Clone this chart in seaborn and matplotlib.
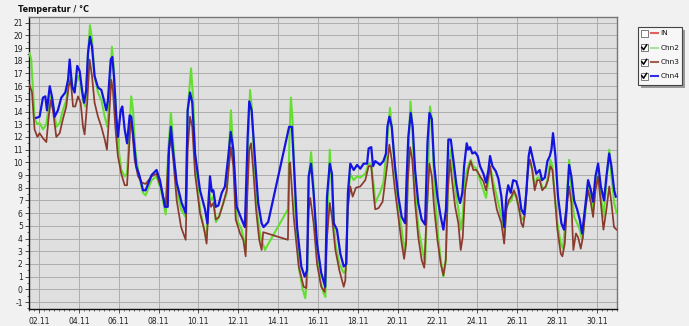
import matplotlib
matplotlib.use("Agg")
import matplotlib.pyplot as plt
import seaborn as sns
import pandas as pd
import numpy as np
from matplotlib.patches import Rectangle
from matplotlib.lines import Line2D
from matplotlib.ticker import MultipleLocator, FixedLocator

# ---------------- data (day of November, temperature in degC) ----------------
chn2_day = [1.53, 1.61, 1.70, 1.78, 1.92, 2.03, 2.20, 2.37, 2.49, 2.59, 2.70, 2.87, 3.04, 3.20, 3.37,
            3.49, 3.59, 3.71, 3.82, 3.96, 4.09, 4.21, 4.32, 4.46, 4.56, 4.66, 4.79, 4.96, 5.13, 5.30,
            5.43, 5.55, 5.66, 5.76, 5.88, 6.00, 6.13, 6.30, 6.42, 6.52, 6.63, 6.72, 6.83, 7.00, 7.22,
            7.35, 7.65, 7.90, 8.12, 8.36, 8.49, 8.62, 8.74, 8.91, 9.13, 9.36, 9.46, 9.63, 9.74, 9.86,
            10.08, 10.29, 10.41, 10.53, 10.63, 10.75, 10.88, 11.03, 11.25, 11.42, 11.53, 11.63, 11.75,
            11.92, 12.17, 12.37, 12.47, 12.59, 12.67, 12.80, 12.97, 13.14, 13.25, 13.34, 13.44, 14.49,
            14.56, 14.64, 14.73, 14.86, 15.06, 15.23, 15.36, 15.46, 15.55, 15.65, 15.75, 15.91, 16.11,
            16.28, 16.37, 16.47, 16.59, 16.70, 16.87, 17.07, 17.29, 17.40, 17.50, 17.62, 17.79, 17.96,
            18.12, 18.37, 18.54, 18.67, 18.80, 18.87, 19.01, 19.11, 19.28, 19.41, 19.53, 19.61, 19.71,
            19.86, 20.03, 20.20, 20.32, 20.42, 20.52, 20.64, 20.73, 20.87, 21.03, 21.20, 21.37, 21.49,
            21.62, 21.71, 21.82, 21.99, 22.16, 22.29, 22.41, 22.54, 22.66, 22.79, 22.93, 23.04, 23.16,
            23.26, 23.38, 23.54, 23.66, 23.79, 23.95, 24.13, 24.30, 24.43, 24.55, 24.63, 24.80, 24.97,
            25.20, 25.34, 25.45, 25.57, 25.70, 25.83, 25.95, 26.09, 26.24, 26.37, 26.50, 26.62, 26.75,
            26.87, 27.00, 27.12, 27.25, 27.42, 27.54, 27.66, 27.76, 27.88, 28.01, 28.18, 28.29, 28.43,
            28.60, 28.71, 28.85, 29.00, 29.13, 29.25, 29.39, 29.55, 29.69, 29.80, 29.92, 30.05, 30.19,
            30.32, 30.47, 30.61, 30.72, 30.86, 30.98]
chn2_temp = [18.6, 18.1, 15.7, 13.4, 13.0, 13.1, 12.6, 13.0, 14.4, 15.2, 14.7, 12.8, 13.1, 14.1, 14.9,
             16.2, 17.0, 15.7, 16.0, 16.8, 16.2, 14.9, 14.4, 18.6, 20.8, 19.7, 16.8, 15.5, 14.9, 13.6,
             12.8, 15.5, 19.1, 17.3, 13.6, 11.0, 9.4, 8.9, 9.1, 12.0, 15.2, 14.1, 11.0, 9.1, 7.6,
             7.4, 8.6, 8.9, 7.8, 5.9, 11.0, 13.9, 11.5, 7.8, 6.3, 5.7, 14.1, 17.4, 14.9, 9.7,
             6.3, 4.7, 3.9, 7.8, 7.0, 7.3, 5.3, 5.7, 6.8, 7.6, 10.7, 14.1, 10.7,
             5.5, 4.7, 3.1, 10.2, 15.7, 14.4, 10.2, 5.7, 3.9, 3.5, 3.1, 3.4, 6.3,
             11.5, 15.1, 13.1, 6.3, 1.5, 0.0, -0.7, 1.0, 8.9, 10.8, 8.9, 3.4, 0.7,
             -0.3, -0.6, 5.5, 11.0, 7.8, 3.6, 2.0, 1.3, 1.5, 7.0, 9.1, 8.6, 8.9,
             8.8, 9.1, 9.9, 9.8, 8.1, 6.8, 7.3, 7.6, 8.4, 10.5, 12.8, 14.3, 12.6,
             9.4, 6.5, 4.7, 3.1, 3.9, 10.2, 14.8, 12.8, 7.8, 4.9, 3.4, 2.0, 7.3,
             14.4, 13.4, 8.9, 4.7, 2.3, 1.0, 2.3, 9.7, 11.0, 9.4, 7.3, 6.3, 4.7,
             5.7, 8.9, 9.7, 10.2, 9.7, 9.5, 8.6, 7.8, 7.2, 8.6, 9.7, 8.4, 7.3,
             5.7, 4.1, 6.5, 6.8, 7.0, 7.7, 7.2, 6.3, 5.5, 5.7, 8.9, 10.2, 9.4,
             8.1, 8.8, 8.8, 8.0, 8.0, 8.9, 10.2, 9.7, 7.3, 5.2, 3.6, 3.2, 5.7,
             10.2, 7.8, 5.7, 5.2, 4.7, 3.9, 5.7, 8.4, 7.3, 6.3, 8.4, 9.7, 7.3,
             5.7, 8.4, 11.0, 8.9, 6.8, 6.0]

chn3_day = [1.53, 1.65, 1.78, 1.92, 2.03, 2.20, 2.37, 2.49, 2.59, 2.70, 2.87, 3.04, 3.20, 3.37, 3.49,
            3.59, 3.71, 3.82, 3.96, 4.09, 4.21, 4.29, 4.42, 4.54, 4.66, 4.79, 4.96, 5.13, 5.30, 5.41,
            5.51, 5.63, 5.71, 5.83, 5.96, 6.13, 6.30, 6.42, 6.50, 6.60, 6.68, 6.80, 6.97, 7.17, 7.35,
            7.65, 7.90, 8.16, 8.36, 8.49, 8.62, 8.74, 8.91, 9.13, 9.36, 9.46, 9.58, 9.69, 9.83, 10.08,
            10.29, 10.41, 10.53, 10.63, 10.75, 10.87, 11.03, 11.25, 11.42, 11.53, 11.63, 11.75, 11.87,
            12.09, 12.25, 12.37, 12.45, 12.55, 12.64, 12.75, 12.89, 13.05, 13.17, 13.25, 14.49, 14.56,
            14.60, 14.78, 15.03, 15.28, 15.41, 15.53, 15.61, 15.78, 15.95, 16.16, 16.33, 16.45, 16.59,
            16.70, 16.87, 17.07, 17.29, 17.37, 17.49, 17.62, 17.74, 17.90, 18.12, 18.37, 18.54, 18.67,
            18.80, 18.87, 19.04, 19.24, 19.36, 19.48, 19.58, 19.70, 19.86, 20.03, 20.20, 20.32, 20.42,
            20.50, 20.62, 20.73, 20.87, 21.03, 21.20, 21.33, 21.46, 21.59, 21.71, 21.82, 21.99, 22.16,
            22.29, 22.41, 22.51, 22.62, 22.74, 22.88, 23.04, 23.16, 23.26, 23.38, 23.54, 23.66, 23.79,
            23.95, 24.13, 24.30, 24.43, 24.55, 24.63, 24.80, 24.97, 25.20, 25.34, 25.45, 25.57, 25.70,
            25.83, 25.95, 26.09, 26.20, 26.29, 26.40, 26.54, 26.64, 26.75, 26.87, 27.00, 27.12, 27.25,
            27.42, 27.54, 27.66, 27.76, 27.88, 28.01, 28.18, 28.26, 28.38, 28.50, 28.60, 28.71, 28.81,
            28.94, 29.05, 29.18, 29.29, 29.41, 29.55, 29.69, 29.80, 29.92, 30.05, 30.19, 30.32, 30.47,
            30.61, 30.72, 30.85, 30.98]
chn3_temp = [16.1, 15.5, 12.6, 12.0, 12.3, 11.9, 11.6, 13.6, 14.9, 14.1, 12.0, 12.3, 13.4, 14.4, 16.0,
             16.5, 14.4, 14.4, 15.2, 14.7, 12.8, 12.2, 14.7, 18.1, 16.8, 14.7, 13.6, 12.8, 11.8, 11.0,
             13.4, 16.5, 15.7, 12.8, 10.5, 9.1, 8.2, 8.2, 10.5, 13.4, 12.6, 10.2, 8.9, 8.4, 8.3,
             8.9, 9.1, 7.8, 6.5, 10.5, 12.0, 10.2, 7.0, 4.9, 3.9, 11.0, 13.6, 12.8, 9.1, 6.0,
             4.7, 3.6, 7.3, 6.5, 6.8, 5.5, 5.7, 6.8, 7.8, 9.7, 11.2, 9.7, 5.5,
             4.4, 3.9, 2.6, 7.3, 11.0, 11.5, 9.4, 6.3, 3.9, 3.1, 4.5, 3.9, 9.9,
             10.0, 5.7, 1.8, 0.2, 0.1, 6.3, 7.2, 5.2, 2.0, 0.2, -0.2, 4.1, 6.8,
             5.7, 3.1, 1.5, 0.2, 0.7, 6.3, 8.1, 7.3, 8.0, 8.1, 8.6, 9.7, 9.7,
             7.3, 6.3, 6.4, 6.9, 8.4, 9.9, 11.4, 10.2, 7.8, 5.7, 3.6, 2.4, 3.6,
             8.4, 11.2, 10.2, 6.8, 4.1, 2.3, 1.7, 6.3, 9.9, 8.9, 6.5, 3.9, 2.0,
             1.1, 2.3, 7.6, 10.2, 8.4, 6.5, 5.2, 3.1, 4.1, 7.8, 9.4, 10.1, 9.4,
             9.4, 8.9, 8.5, 7.8, 8.9, 9.7, 7.8, 6.3, 5.2, 3.6, 6.3, 7.0, 7.3,
             7.8, 7.3, 6.3, 5.2, 4.9, 6.3, 9.7, 10.2, 9.4, 7.8, 8.6, 8.6, 7.8,
             8.1, 8.6, 9.7, 9.4, 7.3, 4.7, 2.8, 2.6, 3.6, 6.8, 8.1, 6.8, 3.1,
             4.4, 4.1, 3.2, 4.1, 6.3, 7.8, 6.8, 5.7, 7.8, 8.9, 6.8, 4.7, 6.3,
             8.1, 6.8, 4.9, 4.7]

chn4_day = [1.86, 2.03, 2.20, 2.32, 2.40, 2.54, 2.65, 2.79, 2.95, 3.12, 3.32, 3.46, 3.54, 3.66, 3.79,
            3.92, 4.04, 4.16, 4.26, 4.37, 4.46, 4.56, 4.66, 4.79, 4.96, 5.13, 5.26, 5.38, 5.46, 5.60,
            5.68, 5.76, 5.88, 5.96, 6.10, 6.18, 6.30, 6.42, 6.55, 6.63, 6.77, 6.88, 7.05, 7.22, 7.35,
            7.65, 7.90, 8.07, 8.32, 8.46, 8.52, 8.62, 8.74, 8.91, 9.16, 9.36, 9.46, 9.58, 9.69, 9.83,
            10.08, 10.33, 10.45, 10.58, 10.67, 10.75, 10.87, 11.00, 11.17, 11.33, 11.50, 11.62, 11.75,
            11.92, 12.17, 12.33, 12.47, 12.55, 12.67, 12.84, 13.00, 13.17, 13.27, 13.50, 14.55, 14.69,
            14.78, 14.95, 15.16, 15.33, 15.45, 15.53, 15.65, 15.78, 15.95, 16.16, 16.36, 16.45, 16.59,
            16.70, 16.79, 16.95, 17.12, 17.29, 17.42, 17.50, 17.62, 17.79, 17.96, 18.12, 18.29, 18.46,
            18.54, 18.67, 18.76, 18.87, 19.04, 19.11, 19.28, 19.41, 19.48, 19.58, 19.70, 19.86, 20.03,
            20.20, 20.37, 20.45, 20.53, 20.65, 20.75, 20.87, 21.03, 21.20, 21.37, 21.49, 21.59, 21.71,
            21.82, 21.99, 22.16, 22.29, 22.42, 22.54, 22.66, 22.79, 22.93, 23.04, 23.13, 23.24, 23.33,
            23.46, 23.54, 23.63, 23.74, 23.88, 24.01, 24.13, 24.30, 24.43, 24.55, 24.63, 24.75, 24.92,
            25.05, 25.20, 25.34, 25.45, 25.54, 25.67, 25.79, 25.95, 26.07, 26.20, 26.34, 26.45, 26.57,
            26.65, 26.79, 26.95, 27.12, 27.24, 27.38, 27.51, 27.63, 27.71, 27.79, 27.91, 28.04, 28.21,
            28.34, 28.46, 28.60, 28.71, 28.85, 29.00, 29.13, 29.25, 29.39, 29.55, 29.69, 29.80, 29.92,
            30.05, 30.19, 30.35, 30.47, 30.61, 30.72, 30.86, 30.94]
chn4_temp = [13.5, 13.6, 15.1, 15.2, 14.1, 16.0, 15.2, 13.6, 14.1, 15.1, 15.5, 16.5, 18.1, 16.0, 15.5,
             17.6, 17.2, 15.7, 14.7, 15.7, 18.6, 19.9, 19.1, 16.8, 15.9, 15.7, 14.9, 14.1, 14.9, 18.1,
             18.3, 16.8, 13.6, 12.0, 14.1, 14.4, 12.6, 11.5, 13.7, 13.6, 11.5, 9.7, 8.9, 7.8, 7.8,
             9.0, 9.4, 8.6, 6.5, 6.5, 11.0, 12.8, 10.7, 8.4, 6.8, 6.0, 14.1, 15.5, 14.7, 10.7,
             7.8, 6.3, 5.2, 8.9, 7.7, 7.8, 6.5, 6.6, 7.6, 8.1, 10.5, 12.4, 11.0,
             6.5, 5.5, 4.9, 12.0, 14.8, 14.1, 10.2, 6.8, 5.2, 4.9, 5.3, 12.8, 12.8,
             10.2, 4.9, 1.8, 1.0, 1.5, 8.9, 9.9, 7.6, 3.6, 1.3, 0.2, 7.3, 9.9,
             9.1, 5.2, 4.7, 2.8, 1.8, 2.0, 7.6, 9.9, 9.4, 9.8, 9.5, 9.9, 9.9,
             11.1, 11.2, 9.7, 10.1, 9.9, 9.8, 10.1, 10.7, 12.8, 13.6, 12.8, 9.7, 7.3,
             5.7, 5.2, 8.9, 12.0, 13.9, 12.8, 9.4, 6.8, 5.5, 5.1, 11.5, 13.9, 13.4,
             9.9, 7.3, 5.7, 4.7, 6.3, 11.8, 11.8, 10.2, 8.4, 7.3, 6.8, 7.6, 9.7,
             11.5, 11.0, 11.2, 10.7, 10.8, 10.5, 9.7, 9.1, 8.4, 9.4, 10.5, 9.7, 9.3,
             8.7, 7.3, 4.9, 7.3, 8.2, 7.6, 8.6, 8.5, 7.8, 6.3, 5.9, 7.6, 10.5,
             11.2, 10.2, 9.1, 9.4, 8.6, 8.8, 10.1, 10.5, 11.0, 12.3, 10.5, 7.3, 5.2,
             4.7, 6.3, 9.8, 8.9, 7.0, 6.3, 5.5, 4.4, 6.3, 8.6, 7.8, 6.9, 8.9,
             9.9, 8.1, 7.0, 8.9, 10.7, 9.7, 7.8, 7.3]

channels = ["Chn2", "Chn3", "Chn4"]
legend_names = ["IN", "Chn2", "Chn3", "Chn4"]
legend_checked = [False, True, True, True]
x_tick_labels = ["02.11", "04.11", "06.11", "08.11", "10.11", "12.11", "14.11", "16.11",
                 "18.11", "20.11", "22.11", "24.11", "26.11", "28.11", "30.11"]
y_ticks = list(range(-1, 22))
title = "Temperatur / °C"

# ---------------- styling ----------------
colors = {"IN": "#e03434", "Chn2": "#66dd33", "Chn3": "#8b3a2c", "Chn4": "#1414e0"}
legend_line_colors = {"IN": "#e06060", "Chn2": "#a8e0a0", "Chn3": "#a06050", "Chn4": "#3030e0"}
widths = {"Chn2": 1.5, "Chn3": 1.25, "Chn4": 1.6}

W, H = 689, 326
fig = plt.figure(figsize=(W / 100, H / 100), dpi=100)
fig.patch.set_facecolor("#f1f1f1")

def px(x, y):
    return x / W, 1 - y / H

ax_l, ax_r, ax_t, ax_b = 29, 617, 17, 309
ax = fig.add_axes([ax_l / W, 1 - ax_b / H, (ax_r - ax_l) / W, (ax_b - ax_t) / H])
ax.set_facecolor("#dfdfdf")

frames = []
for name, d, t in [("Chn2", chn2_day, chn2_temp), ("Chn3", chn3_day, chn3_temp), ("Chn4", chn4_day, chn4_temp)]:
    frames.append(pd.DataFrame({"day": d, "temp": t, "channel": name}))
df = pd.concat(frames, ignore_index=True)

for name in channels:
    sub = df[df["channel"] == name]
    sns.lineplot(data=sub, x="day", y="temp", color=colors[name], linewidth=widths[name],
                 estimator=None, sort=False, legend=False, ax=ax, zorder=3)

ax.set_xlim(1.5, 31.0)
ax.set_ylim(-1.55, 21.45)
ax.set_xlabel("")
ax.set_ylabel("")

tick_pos = [int(s[:2]) for s in x_tick_labels]
ax.xaxis.set_major_locator(FixedLocator(tick_pos))
ax.set_xticklabels(x_tick_labels)
ax.xaxis.set_minor_locator(MultipleLocator(0.25))
ax.set_yticks(y_ticks)
ax.set_yticklabels([str(v) for v in y_ticks])
ax.yaxis.set_minor_locator(MultipleLocator(0.5))

ax.grid(True, which="major", color="#adadad", linewidth=0.7, zorder=0)
ax.set_axisbelow(True)
ax.tick_params(axis="both", which="major", labelsize=5.5, labelcolor="#222222",
               length=3, width=0.6, color="#333333", direction="out", pad=2.5)
ax.tick_params(axis="both", which="minor", length=1.5, width=0.5, color="#333333", direction="out")
ax.tick_params(axis="y", pad=1.5)

for side in ["left", "bottom"]:
    ax.spines[side].set_color("#111111")
    ax.spines[side].set_linewidth(1.0)
for side in ["top", "right"]:
    ax.spines[side].set_color("#777777")
    ax.spines[side].set_linewidth(1.0)

fig.text(*px(18, 9), title, fontsize=5.8, fontweight="bold", color="#111111",
         ha="left", va="center")

# ---------------- legend (check-box style) ----------------
bx0, by0, bx1, by1 = 638, 27, 682, 85
shadow = Rectangle(px(bx0 + 3, by1 + 3), (bx1 - bx0) / W, (by1 - by0) / H,
                   transform=fig.transFigure, facecolor="#9a9a9a", edgecolor="none", zorder=5)
box = Rectangle(px(bx0, by1), (bx1 - bx0) / W, (by1 - by0) / H,
                transform=fig.transFigure, facecolor="#f7f7f7", edgecolor="#444444",
                linewidth=0.8, zorder=6)
fig.patches.extend([shadow, box])

row_y = [33, 47.5, 62, 76]
for name, checked, yy in zip(legend_names, legend_checked, row_y):
    cb = Rectangle(px(640.5, yy + 3.5), 7 / W, 7 / H, transform=fig.transFigure,
                   facecolor="white", edgecolor="#666666", linewidth=0.6, zorder=7)
    fig.patches.append(cb)
    if checked:
        xs = [641.8, 643.6, 646.6]
        ys = [yy - 0.2, yy + 2.2, yy - 2.6]
        fig.lines.append(Line2D([x / W for x in xs], [1 - y / H for y in ys],
                                transform=fig.transFigure, color="black", linewidth=1.1, zorder=8))
    fig.lines.append(Line2D([651 / W, 658 / W], [1 - yy / H, 1 - yy / H], transform=fig.transFigure,
                            color=legend_line_colors[name], linewidth=1.5, zorder=8))
    fig.text(*px(660.5, yy), name, fontsize=5.3, color="#111111", ha="left", va="center", zorder=9)

fig.savefig("out.png", dpi=100, facecolor=fig.get_facecolor())
